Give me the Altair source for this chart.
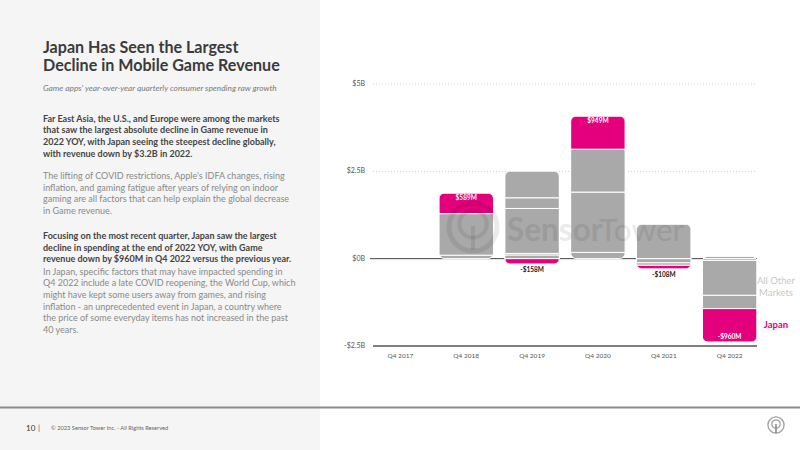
import altair as alt
import pandas as pd

# ---------------- data ----------------
quarters = ["Q4 2017", "Q4 2018", "Q4 2019", "Q4 2020", "Q4 2021", "Q4 2022"]
japan = [0.0, 0.589, -0.158, 0.949, -0.108, -0.960]          # $B YoY change
japan_labels = ["", "$589M", "-$158M", "$949M", "-$108M", "-$960M"]

# all other markets, segments listed from the zero line outward ($B)
others_q4_2017 = []
others_q4_2018 = [0.10, 1.19]
others_q4_2019 = [0.106, 0.045, 1.286, 0.306, 0.767]
others_q4_2020 = [0.18, 1.726, 1.228]
others_q4_2021 = [0.99, -0.12, -0.07]
others_q4_2022 = [0.07, -0.05, -1.00, -0.38]
others_all = [others_q4_2017, others_q4_2018, others_q4_2019,
              others_q4_2020, others_q4_2021, others_q4_2022]

y_ticks = [5, 2.5, 0, -2.5]
y_tick_labels = ["$5B", "$2.5B", "$0B", "-$2.5B"]

title_lines = ["Japan Has Seen the Largest", "Decline in Mobile Game Revenue"]
subtitle = "Game apps' year-over-year quarterly consumer spending raw growth"
para1 = ["Far East Asia, the U.S., and Europe were among the markets",
         "that saw the largest absolute decline in Game revenue in",
         "2022 YOY, with Japan seeing the steepest decline globally,",
         "with revenue down by $3.2B in 2022."]
para2 = ["The lifting of COVID restrictions, Apple's IDFA changes, rising",
         "inflation, and gaming fatigue after years of relying on indoor",
         "gaming are all factors that can help explain the global decrease",
         "in Game revenue."]
para3_bold = ["Focusing on the most recent quarter, Japan saw the largest",
              "decline in spending at the end of 2022 YOY, with Game",
              "revenue down by $960M in Q4 2022 versus the previous year."]
para3_rest = ["In Japan, specific factors that may have impacted spending in",
              "Q4 2022 include a late COVID reopening, the World Cup, which",
              "might have kept some users away from games, and rising",
              "inflation - an unprecedented event in Japan, a country where",
              "the price of some everyday items has not increased in the past",
              "40 years."]
footer_page = "10"
footer_text = "\u00a9 2023 Sensor Tower Inc. - All Rights Reserved"

# ---------------- tables ----------------
rows = []
for q, jp, segs in zip(quarters, japan, others_all):
    for i, v in enumerate(segs):
        rows.append(dict(quarter=q, market=f"Other market {i+1}",
                         group="All Other Markets", value=v, order=i))
    if jp != 0:
        rows.append(dict(quarter=q, market="Japan", group="Japan", value=jp, order=99))
bars_df = pd.DataFrame(rows)

lab_rows = []
for q, jp, lab, segs in zip(quarters, japan, japan_labels, others_all):
    if jp == 0:
        continue
    same = sum(v for v in segs if (v > 0) == (jp > 0))
    lab_rows.append(dict(quarter=q, japan=jp, label=lab, end=same + jp))
labels_df = pd.DataFrame(lab_rows)

ticks_df = pd.DataFrame({"tick": y_ticks, "label": y_tick_labels})
q_df = pd.DataFrame({"quarter": quarters})
one = pd.DataFrame({"k": [0]})

PINK = "#e4007c"
GRAY = "#a9a9a9"
FONT = "Lato"

xscale = alt.Scale(domain=quarters, range=[373, 757], paddingInner=0.17, paddingOuter=0)
yscale = alt.Scale(domain=[-2.5, 5], range=[346, 84], nice=False, zero=False)


def txt(text, x, y, size, color, weight="normal", align="left", style="normal",
        baseline="alphabetic", line_height=None, font=FONT, opacity=1):
    kw = dict(text=text, fontSize=size, color=color, fontWeight=weight, align=align,
              fontStyle=style, baseline=baseline, font=font, opacity=opacity)
    if line_height is not None:
        kw["lineHeight"] = line_height
    return alt.Chart(one).mark_text(**kw).encode(x=alt.value(x), y=alt.value(y))


def rect(x, x2, y, y2, color):
    return alt.Chart(one).mark_rect(color=color).encode(
        x=alt.value(x), x2=alt.value(x2), y=alt.value(y), y2=alt.value(y2))


layers = []
# background panels
layers.append(rect(0, 320, 0, 450, "#f5f5f5"))
layers.append(rect(0, 800, 406.5, 408.5, "#8c8c8c"))

# left text
layers.append(txt(title_lines, 43, 53, 16.1, "#3b3b3b", weight="bold", line_height=17.8))
layers.append(txt(subtitle, 43, 91, 8.3, "#7a7a7a", style="italic"))
layers.append(txt(para1, 43, 121.5, 9, "#444444", weight="bold", line_height=11.7))
layers.append(txt(para2, 43, 179, 9, "#8a8a8a", line_height=11.7))
layers.append(txt(para3_bold, 43, 239, 9, "#444444", weight="bold", line_height=11.7))
layers.append(txt(para3_rest, 43, 274.5, 9, "#8a8a8a", line_height=11.7))

# footer
layers.append(txt(footer_page, 26, 431, 8, "#333333"))
layers.append(txt("|", 38, 431, 8, "#666666"))
layers.append(txt(footer_text, 51, 430, 5.7, "#666666"))
layers.append(alt.Chart(one).mark_point(shape="circle", filled=False, color="#777777",
                                        strokeWidth=1.3, size=260).encode(
    x=alt.value(776), y=alt.value(425)))
layers.append(alt.Chart(one).mark_point(shape="circle", filled=False, color="#777777",
                                        strokeWidth=1.3, size=70).encode(
    x=alt.value(776), y=alt.value(424)))
layers.append(alt.Chart(one).mark_rule(color="#777777", strokeWidth=1.3).encode(
    x=alt.value(776), y=alt.value(424), y2=alt.value(433)))

# gridlines
grid = alt.Chart(ticks_df)
layers.append(grid.transform_filter("datum.tick > 0").mark_rule(
    color="#cccccc", strokeDash=[1, 2], strokeWidth=1).encode(
    y=alt.Y("tick:Q", scale=yscale, axis=None), x=alt.value(373), x2=alt.value(757)))
layers.append(grid.transform_filter("datum.tick == 0").mark_rule(
    color="#444444", strokeWidth=1).encode(
    y=alt.Y("tick:Q", scale=yscale, axis=None), x=alt.value(370), x2=alt.value(757)))
layers.append(grid.transform_filter("datum.tick < 0").mark_rule(
    color="#555555", strokeWidth=1.5).encode(
    y=alt.Y("tick:Q", scale=yscale, axis=None), x=alt.value(373), x2=alt.value(757)))
layers.append(grid.mark_text(align="right", baseline="middle", fontSize=7, color="#555555",
                             font=FONT).encode(
    y=alt.Y("tick:Q", scale=yscale, axis=None), x=alt.value(365), text="label:N"))

# x labels
layers.append(alt.Chart(q_df).mark_text(baseline="middle", fontSize=6.5, color="#555555",
                                        font=FONT).encode(
    x=alt.X("quarter:N", scale=xscale, axis=None), y=alt.value(356), text="quarter:N"))

# bars
layers.append(alt.Chart(bars_df).mark_bar(cornerRadius=6, stroke="white", strokeWidth=1).encode(
    x=alt.X("quarter:N", scale=xscale, axis=None),
    y=alt.Y("value:Q", scale=yscale, axis=None, stack="zero"),
    color=alt.Color("group:N", scale=alt.Scale(domain=["All Other Markets", "Japan"],
                                               range=[GRAY, PINK]), legend=None),
    order=alt.Order("order:Q"),
    detail="market:N"))

# watermark
layers.append(alt.Chart(one).mark_point(shape="circle", filled=False, color="#000000",
                                        opacity=0.08, strokeWidth=5, size=2300).encode(
    x=alt.value(473), y=alt.value(227)))
layers.append(alt.Chart(one).mark_point(shape="circle", filled=False, color="#000000",
                                        opacity=0.08, strokeWidth=4, size=750).encode(
    x=alt.value(473), y=alt.value(224)))
layers.append(alt.Chart(one).mark_rule(color="#000000", opacity=0.08, strokeWidth=4).encode(
    x=alt.value(473), y=alt.value(226), y2=alt.value(250)))
layers.append(txt("Sensor", 507, 241, 31.5, "#000000", weight="bold", opacity=0.08))
layers.append(txt("Tower", 599, 241, 31.5, "#000000", opacity=0.08))

# bar value labels
lab = alt.Chart(labels_df)
enc = dict(x=alt.X("quarter:N", scale=xscale, axis=None),
           y=alt.Y("end:Q", scale=yscale, axis=None), text="label:N")
layers.append(lab.transform_filter("datum.japan > 0").mark_text(
    baseline="middle", dy=5, fontSize=6.5, fontWeight="bold", color="white", font=FONT).encode(**enc))
layers.append(lab.transform_filter("datum.japan < -0.3").mark_text(
    baseline="middle", dy=-5, fontSize=6.5, fontWeight="bold", color="white", font=FONT).encode(**enc))
layers.append(lab.transform_filter("datum.japan < 0 && datum.japan >= -0.3").mark_text(
    baseline="middle", dy=5.5, fontSize=6.5, fontWeight="bold", color="#222222", font=FONT).encode(**enc))

# legend labels
layers.append(txt(["All Other", "Markets"], 776, 283.5, 9.5, "#c8c8c8", align="center",
                  line_height=12.7))
layers.append(txt("Japan", 776, 328, 9.5, PINK, weight="bold", align="center"))

chart = alt.layer(*layers).properties(
    width=800, height=450, padding=0,
    autosize=alt.AutoSizeParams(type="none"), background="white",
).configure_view(stroke=None)

chart.save("out.html", embed_options={"renderer": "svg", "actions": False})
